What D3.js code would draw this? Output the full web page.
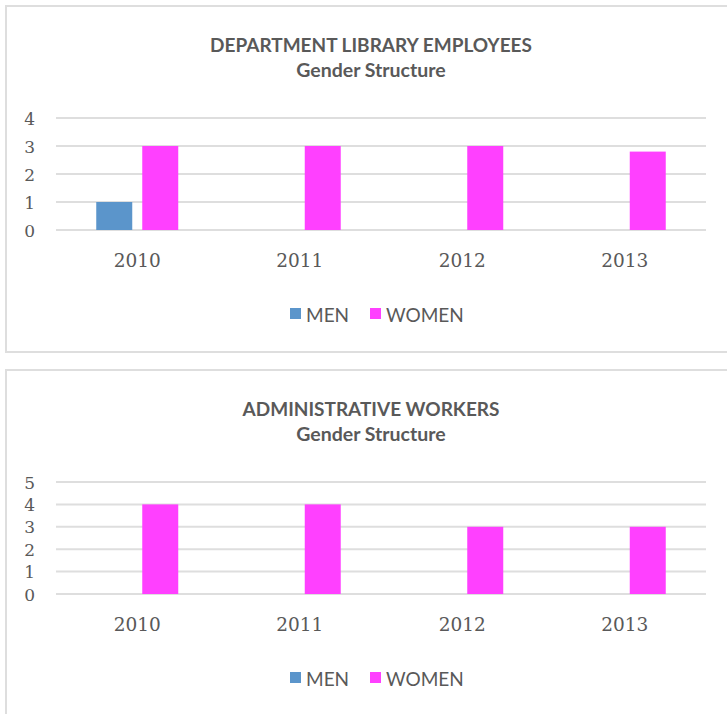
<!DOCTYPE html>
<html>
<head>
<meta charset="utf-8">
<script src="https://cdn.jsdelivr.net/npm/d3@7"></script>
<style>
  html, body { margin: 0; padding: 0; background: #ffffff; }
  svg { display: block; }
</style>
</head>
<body>
<div id="chart"></div>
<script>
// Years on the category axis
const years = ["2010", "2011", "2012", "2013"];
const seriesNames = ["MEN", "WOMEN"];
const seriesColors = ["#5b95cb", "#ff40ff"];

// Department library employees
const libraryTitle = "DEPARTMENT LIBRARY EMPLOYEES";
const libraryMen = [1, 0, 0, 0];
const libraryWomen = [3, 3, 3, 2.8];
const libraryTicks = [0, 1, 2, 3, 4];

// Administrative workers
const adminTitle = "ADMINISTRATIVE WORKERS";
const adminMen = [0, 0, 0, 0];
const adminWomen = [4, 4, 3, 3];
const adminTicks = [0, 1, 2, 3, 4, 5];

const subtitle = "Gender Structure";

const W = 727, H = 714;
const textColor = "#595959";
const gridColor = "#dedede";

const svg = d3.select("#chart").append("svg")
  .attr("width", W).attr("height", H);

function drawPanel(offsetY, title, men, women, ticks) {
  const g = svg.append("g").attr("transform", `translate(0,${offsetY})`);

  // Chart frame (runs past the right edge of the page)
  g.append("rect")
    .attr("x", 6).attr("y", 6)
    .attr("width", 760).attr("height", 346)
    .attr("fill", "none")
    .attr("stroke", gridColor)
    .attr("stroke-width", 2);

  // Titles
  g.append("text")
    .attr("x", 371).attr("y", 52)
    .attr("text-anchor", "middle")
    .attr("font-family", "Lato, 'Open Sans', sans-serif")
    .attr("font-weight", "bold")
    .attr("font-size", 19)
    .attr("fill", textColor)
    .text(title);
  g.append("text")
    .attr("x", 371).attr("y", 77)
    .attr("text-anchor", "middle")
    .attr("font-family", "Lato, 'Open Sans', sans-serif")
    .attr("font-weight", "bold")
    .attr("font-size", 19.5)
    .attr("fill", textColor)
    .text(subtitle);

  // Scales
  const x0 = d3.scaleBand().domain(years).range([56, 706]).padding(0);
  const groupW = 82;
  const x1 = d3.scaleBand().domain(seriesNames)
    .range([0, groupW]).paddingInner(10 / 46).paddingOuter(0);
  const y = d3.scaleLinear().domain([0, d3.max(ticks)]).range([230, 118]);

  // Gridlines
  g.append("g").selectAll("line")
    .data(ticks)
    .join("line")
    .attr("x1", 56).attr("x2", 706)
    .attr("y1", d => y(d)).attr("y2", d => y(d))
    .attr("stroke", gridColor)
    .attr("stroke-width", 2);

  // Value axis labels
  const yAxis = d3.axisLeft(y).tickValues(ticks).tickSize(0).tickPadding(0)
    .tickFormat(d3.format("d"));
  const ya = g.append("g").attr("transform", "translate(35,0)").call(yAxis);
  ya.select(".domain").remove();
  ya.selectAll("text")
    .attr("font-family", "'DejaVu Serif', 'Liberation Serif', serif")
    .attr("font-size", 17)
    .attr("fill", textColor)
    .attr("dy", "0.36em");

  // Category axis labels
  const xAxis = d3.axisBottom(x0).tickSize(0).tickPadding(0);
  const xa = g.append("g").attr("transform", "translate(0,267)").call(xAxis);
  xa.select(".domain").remove();
  xa.selectAll("text")
    .attr("font-family", "'DejaVu Serif', 'Liberation Serif', serif")
    .attr("font-size", 18.5)
    .attr("fill", textColor)
    .attr("dy", 0);

  // Bars
  const rows = years.map((yr, i) => ({
    year: yr,
    values: [
      { name: "MEN", value: men[i], color: seriesColors[0] },
      { name: "WOMEN", value: women[i], color: seriesColors[1] }
    ]
  }));
  const groups = g.append("g").selectAll("g")
    .data(rows)
    .join("g")
    .attr("transform", d => `translate(${x0(d.year) + x0.bandwidth() / 2 - groupW / 2},0)`);
  groups.selectAll("rect")
    .data(d => d.values.filter(v => v.value > 0))
    .join("rect")
    .attr("x", d => x1(d.name))
    .attr("width", x1.bandwidth())
    .attr("y", d => y(d.value))
    .attr("height", d => y(0) - y(d.value))
    .attr("fill", d => d.color);

  // Legend
  const legendItems = [
    { name: "MEN", color: seriesColors[0], x: 290 },
    { name: "WOMEN", color: seriesColors[1], x: 370 }
  ];
  const lg = g.append("g").selectAll("g")
    .data(legendItems)
    .join("g")
    .attr("transform", d => `translate(${d.x},308)`);
  lg.append("rect")
    .attr("width", 11).attr("height", 11)
    .attr("fill", d => d.color);
  lg.append("text")
    .attr("x", 16).attr("y", 14)
    .attr("font-family", "Lato, 'Open Sans', sans-serif")
    .attr("font-size", 19)
    .attr("fill", textColor)
    .text(d => d.name);
}

drawPanel(0, libraryTitle, libraryMen, libraryWomen, libraryTicks);
drawPanel(364, adminTitle, adminMen, adminWomen, adminTicks);
</script>
</body>
</html>
